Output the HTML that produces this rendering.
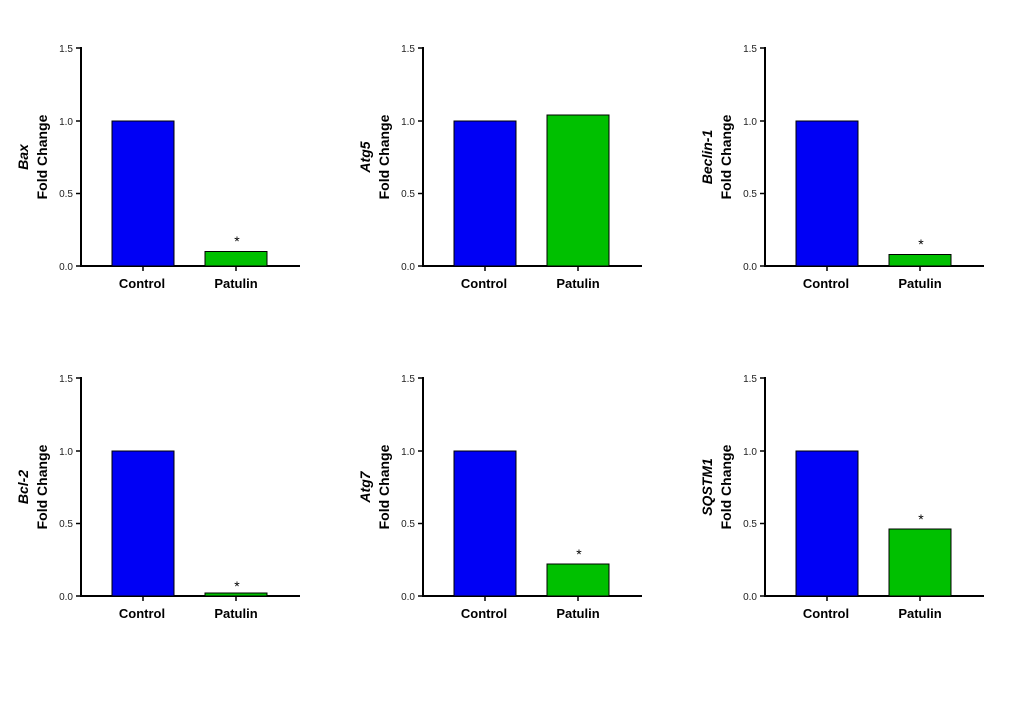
<!DOCTYPE html>
<html><head><style>body{margin:0;background:#fff}svg{display:block}</style></head><body>
<svg width="1022" height="720" xmlns="http://www.w3.org/2000/svg" font-family="Liberation Sans, Arial, sans-serif">
<defs>
<g id="ax">
<line x1="81" y1="47" x2="81" y2="267" stroke="#000" stroke-width="2"/>
<line x1="80" y1="266" x2="300" y2="266" stroke="#000" stroke-width="2"/>
<g stroke="#000" stroke-width="1.5">
<line x1="76" y1="48" x2="81" y2="48"/><line x1="76" y1="121" x2="81" y2="121"/>
<line x1="76" y1="193.5" x2="81" y2="193.5"/><line x1="76" y1="266" x2="81" y2="266"/>
<line x1="143" y1="266" x2="143" y2="271"/><line x1="236" y1="266" x2="236" y2="271"/>
</g>
<g font-size="10" fill="#222" text-anchor="end">
<text x="73" y="52">1.5</text><text x="73" y="125">1.0</text>
<text x="73" y="197">0.5</text><text x="73" y="270">0.0</text>
</g>
<g font-size="13" font-weight="bold" text-anchor="middle">
<text x="142" y="288">Control</text><text x="236" y="288">Patulin</text>
</g>
<rect x="112" y="121" width="62" height="145" fill="#0000f5" stroke="#000" stroke-width="1"/>
<text transform="translate(47,157) rotate(-90)" font-size="14" font-weight="bold" text-anchor="middle">Fold Change</text>
</g>
</defs>
<g>
<use href="#ax"/>
<rect x="205" y="251.5" width="62" height="14.5" fill="#00c000" stroke="#000"/>
<text x="237" y="246" font-size="14" text-anchor="middle">*</text>
<text transform="translate(28,157) rotate(-90)" font-size="14" font-weight="bold" font-style="italic" text-anchor="middle">Bax</text>
</g>
<g transform="translate(342,0)">
<use href="#ax"/>
<rect x="205" y="115" width="62" height="151" fill="#00c000" stroke="#000"/>
<text transform="translate(28,157) rotate(-90)" font-size="14" font-weight="bold" font-style="italic" text-anchor="middle">Atg5</text>
</g>
<g transform="translate(684,0)">
<use href="#ax"/>
<rect x="205" y="254.5" width="62" height="11.5" fill="#00c000" stroke="#000"/>
<text x="237" y="249" font-size="14" text-anchor="middle">*</text>
<text transform="translate(28,157) rotate(-90)" font-size="14" font-weight="bold" font-style="italic" text-anchor="middle">Beclin-1</text>
</g>
<g transform="translate(0,330)">
<use href="#ax"/>
<rect x="205" y="263" width="62" height="3" fill="#00c000" stroke="#000"/>
<text x="237" y="261" font-size="14" text-anchor="middle">*</text>
<text transform="translate(28,157) rotate(-90)" font-size="14" font-weight="bold" font-style="italic" text-anchor="middle">Bcl-2</text>
</g>
<g transform="translate(342,330)">
<use href="#ax"/>
<rect x="205" y="234" width="62" height="32" fill="#00c000" stroke="#000"/>
<text x="237" y="229" font-size="14" text-anchor="middle">*</text>
<text transform="translate(28,157) rotate(-90)" font-size="14" font-weight="bold" font-style="italic" text-anchor="middle">Atg7</text>
</g>
<g transform="translate(684,330)">
<use href="#ax"/>
<rect x="205" y="199" width="62" height="67" fill="#00c000" stroke="#000"/>
<text x="237" y="194" font-size="14" text-anchor="middle">*</text>
<text transform="translate(28,157) rotate(-90)" font-size="14" font-weight="bold" font-style="italic" text-anchor="middle">SQSTM1</text>
</g>
</svg>
</body></html>
